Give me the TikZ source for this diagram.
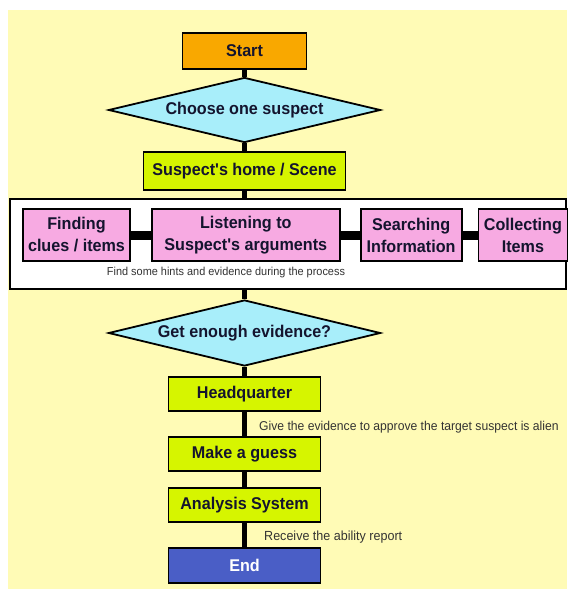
\documentclass[tikz,border=0pt]{standalone}
\usepackage{fontspec}
\setmainfont{Liberation Sans}
\newfontfamily\narrowsans{Liberation Sans}[FakeStretch=0.95]
\usepackage{xcolor}
\usetikzlibrary{positioning, shapes.geometric}

\definecolor{bgyellow}{HTML}{FFFBB6}
\definecolor{startorange}{HTML}{F9A800}
\definecolor{choicecyan}{HTML}{A8EEFA}
\definecolor{steplime}{HTML}{D6F500}
\definecolor{actpink}{HTML}{F7AAE2}
\definecolor{endblue}{HTML}{4A5EC6}
\definecolor{textnavy}{HTML}{14142E}
\definecolor{notegray}{HTML}{333333}

\tikzset{
    stepbox/.style={draw=black, line width=1.8pt, inner sep=0pt, align=center,
        text=textnavy, font=\narrowsans\bfseries\fontsize{17}{22}\selectfont},
    limebox/.style={stepbox, fill=steplime, minimum width=152pt, minimum height=34pt},
    actbox/.style={stepbox, fill=actpink, minimum height=52pt},
    choice/.style={diamond, aspect=4.25, draw=black, line width=1.8pt, inner sep=0pt,
        fill=choicecyan, text=textnavy, font=\narrowsans\bfseries\fontsize{17}{22}\selectfont,
        minimum width=272pt, minimum height=65pt},
    note/.style={inner sep=0pt, text=notegray, font=\narrowsans\fontsize{13.2}{15}\selectfont},
    spine/.style={line width=5pt},
    bar/.style={line width=9pt}
}

\begin{document}
\begin{tikzpicture}[x=1pt, y=-1pt]

    \useasboundingbox (0,0) rectangle (567,591);
    \fill[bgyellow] (8,10) rectangle (567,589);

    % main column
    \node (start) [stepbox, fill=startorange, minimum width=124pt, minimum height=36pt] at (244.5,51) {Start};
    \node (choose) [choice] at (244.5,110) {Choose one suspect};
    \node (home) [limebox, minimum width=202pt, minimum height=38pt] at (244.5,171) {Suspect's home / Scene};

    % process box
    \node (process) [draw=black, line width=2pt, fill=white, minimum width=556pt, minimum height=90pt, inner sep=0pt] at (288,244) {};
    \node (finding) [actbox, minimum width=107pt] at (76.5,235) {Finding\\clues / items};
    \node (listening) [actbox, minimum width=188pt, right=20pt of finding] {Listening to\\Suspect's arguments};
    \node (searching) [actbox, minimum width=101pt, right=19pt of listening] {Searching\\Information};
    \node (collecting) [actbox, minimum width=89pt, right=15pt of searching] {Collecting\\Items};
    \node (hints) [note, font=\narrowsans\fontsize{11.5}{13}\selectfont] at (226,273) {Find some hints and evidence during the process};

    \node (evid) [choice, minimum height=66pt] at (244.5,333) {Get enough evidence?};
    \node (hq) [limebox] at (244.5,394) {Headquarter};
    \node (guess) [limebox] at (244.5,454) {Make a guess};
    \node (analysis) [limebox] at (244.5,505) {Analysis System};
    \node (end) [stepbox, fill=endblue, text=white, minimum width=152pt, minimum height=35pt] at (244.5,565.5) {End};

    \node (give) [note, anchor=west, font=\narrowsans\fontsize{12.8}{15}\selectfont] at (259,427) {Give the evidence to approve the target suspect is alien};
    \node (receive) [note, anchor=west] at (264,537) {Receive the ability report};

    % connectors
    \draw[spine] (start) -- (choose);
    \draw[spine] (choose) -- (home);
    \draw[spine] (home) -- (home |- process.north);
    \draw[spine] (evid |- process.south) -- (evid);
    \draw[spine] (evid) -- (hq);
    \draw[spine] (hq) -- (guess);
    \draw[spine] (guess) -- (analysis);
    \draw[spine] (analysis) -- (end);

    \draw[bar] (finding) -- (listening);
    \draw[bar] (listening) -- (searching);
    \draw[bar] (searching) -- (collecting);

\end{tikzpicture}
\end{document}
